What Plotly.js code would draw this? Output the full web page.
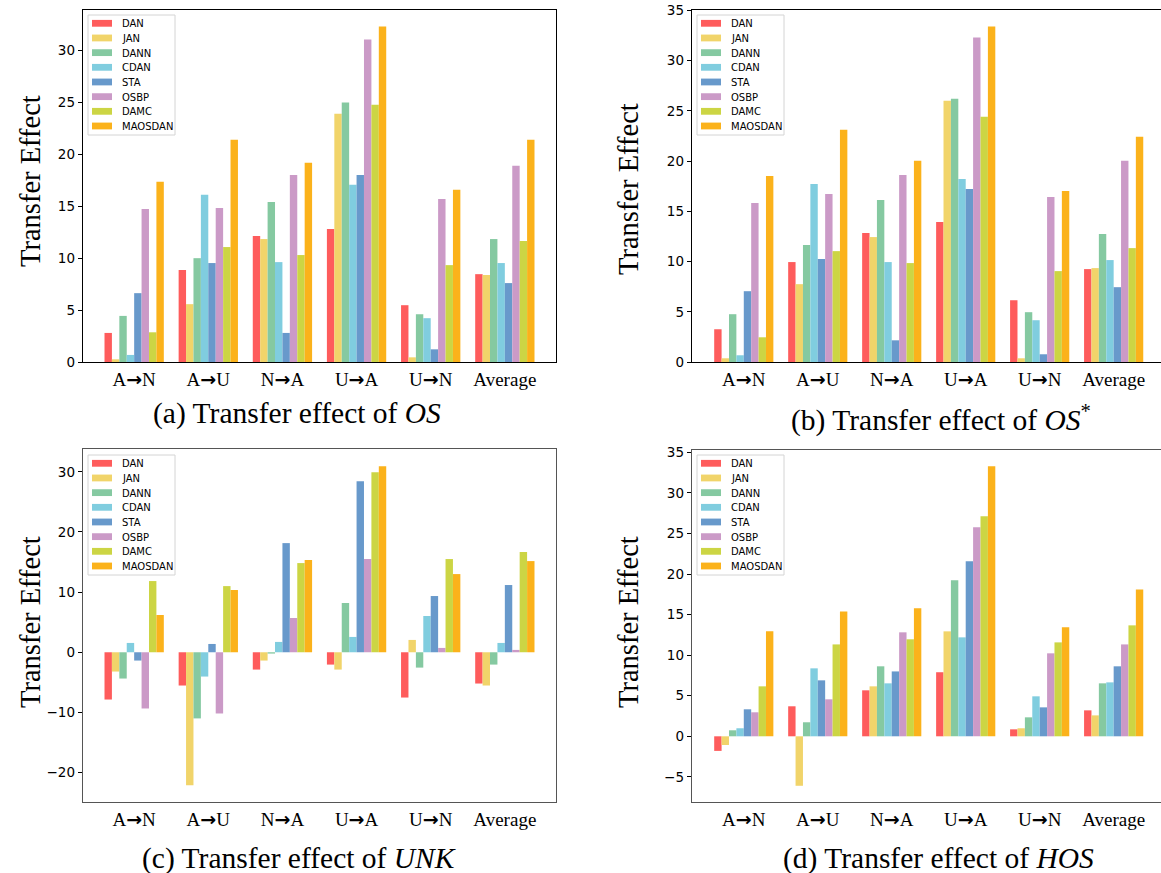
<!DOCTYPE html>
<html><head><meta charset="utf-8">
<script src="https://cdn.plot.ly/plotly-3.0.1.min.js"></script>
<style>body{margin:0;background:#fff}</style>
</head><body><div id="chart" style="width:1161px;height:873px"></div>
<script>
const ARROW = "<span style='font-family:DejaVu Sans;font-weight:bold'>→</span>";
const categories = ['A' + ARROW + 'N', 'A' + ARROW + 'U', 'N' + ARROW + 'A', 'U' + ARROW + 'A', 'U' + ARROW + 'N', 'Average'];
const methods = ['DAN', 'JAN', 'DANN', 'CDAN', 'STA', 'OSBP', 'DAMC', 'MAOSDAN'];
const colors = ['#fe5c5c', '#f1d46a', '#85c9a1', '#80cddf', '#6899cb', '#cb9ac7', '#ccd544', '#fbb21b'];

// rows: methods, columns: categories
const osValues = [
  [2.8, 8.85, 12.13, 12.81, 5.47, 8.46],
  [0.26, 5.57, 11.84, 23.9, 0.45, 8.37],
  [4.44, 10.0, 15.42, 24.98, 4.6, 11.84],
  [0.68, 16.1, 9.62, 17.06, 4.22, 9.53],
  [6.63, 9.53, 2.8, 18.02, 1.22, 7.6],
  [14.74, 14.84, 18.02, 31.06, 15.7, 18.89],
  [2.86, 11.07, 10.3, 24.78, 9.33, 11.65],
  [17.35, 21.4, 19.18, 32.31, 16.58, 21.4]
];
const osStarValues = [
  [3.26, 9.95, 12.84, 13.94, 6.15, 9.25],
  [0.37, 7.75, 12.44, 26.01, 0.37, 9.35],
  [4.76, 11.64, 16.13, 26.21, 4.96, 12.74],
  [0.67, 17.73, 9.95, 18.23, 4.16, 10.15],
  [7.05, 10.25, 2.16, 17.23, 0.77, 7.45],
  [15.84, 16.73, 18.63, 32.3, 16.43, 20.03],
  [2.46, 11.04, 9.85, 24.42, 9.05, 11.34],
  [18.53, 23.12, 20.03, 33.4, 17.03, 22.42]
];
const unkValues = [
  [-7.86, -5.53, -2.88, -2.05, -7.53, -5.2],
  [-3.21, -22.1, -1.38, -2.88, 2.05, -5.53],
  [-4.37, -11.0, -0.22, 8.19, -2.55, -2.05],
  [1.55, -4.04, 1.72, 2.55, 6.03, 1.55],
  [-1.38, 1.38, 18.15, 28.44, 9.35, 11.18],
  [-9.35, -10.18, 5.7, 15.5, 0.72, 0.39],
  [11.84, 11.0, 14.83, 29.94, 15.5, 16.66],
  [6.2, 10.35, 15.33, 30.94, 13.0, 15.16]
];
const hosValues = [
  [-1.8, 3.7, 5.67, 7.9, 0.86, 3.2],
  [-1.07, -6.1, 6.16, 12.94, 0.99, 2.58],
  [0.74, 1.73, 8.63, 19.24, 2.34, 6.53],
  [0.99, 8.38, 6.53, 12.2, 4.93, 6.65],
  [3.33, 6.9, 8.0, 21.58, 3.57, 8.63],
  [2.96, 4.56, 12.82, 25.77, 10.23, 11.33],
  [6.16, 11.33, 11.96, 27.13, 11.58, 13.68],
  [12.94, 15.4, 15.78, 33.3, 13.44, 18.1]
];
const yTicksA = [0, 5, 10, 15, 20, 25, 30];
const yTicksB = [0, 5, 10, 15, 20, 25, 30, 35];
const yTicksC = [-20, -10, 0, 10, 20, 30];
const yTicksD = [-5, 0, 5, 10, 15, 20, 25, 30, 35];

const W = 1161, H = 873;
const px = v => v / W, py = v => 1 - v / H;

const panels = [
  {vals: osValues, ax: '', box: [83, 556, 10, 362], yr: [0, 33.9], ticks: yTicksA, line: '#000', mirrorY: true, xr: [-0.69, 5.69], leg: [88, 15]},
  {vals: osStarValues, ax: '2', box: [692, 1161, 10, 362], yr: [0, 35.05], ticks: yTicksB, line: '#000', mirrorY: false, xr: [-0.70, 5.64], leg: [697, 15]},
  {vals: unkValues, ax: '3', box: [83, 556, 449, 802], yr: [-24.9, 33.8], ticks: yTicksC, line: '#555', mirrorY: true, xr: [-0.69, 5.69], leg: [88, 455]},
  {vals: hosValues, ax: '4', box: [692, 1161, 450, 802], yr: [-8.1, 35.3], ticks: yTicksD, line: '#555', mirrorY: false, xr: [-0.70, 5.64], leg: [697, 455]}
];

const data = [];
const layout = {
  width: W, height: H,
  margin: {l: 0, r: 0, t: 0, b: 0},
  paper_bgcolor: '#fff', plot_bgcolor: '#fff',
  barmode: 'group', bargap: 0.2, bargroupgap: 0,
  showlegend: false,
  annotations: [], shapes: []
};

panels.forEach((p, pi) => {
  methods.forEach((m, mi) => {
    data.push({
      type: 'bar', name: m, x: categories, y: p.vals[mi],
      marker: {color: colors[mi], line: {width: 0}},
      xaxis: 'x' + p.ax, yaxis: 'y' + p.ax,
      hoverinfo: 'x+y+name'
    });
  });
  const [l, r, t, b] = p.box;
  layout['xaxis' + p.ax] = {
    domain: [px(l), px(r)], anchor: 'y' + p.ax, type: 'category',
    range: p.xr, showgrid: false, zeroline: false,
    showline: true, linecolor: p.line, linewidth: 1.3, mirror: true,
    ticks: '', tickfont: {family: 'Liberation Serif', size: 19, color: '#000'},
    ticklabelstandoff: 0, fixedrange: true
  };
  layout['yaxis' + p.ax] = {
    domain: [py(b), py(t)], anchor: 'x' + p.ax,
    range: p.yr, tickvals: p.ticks, showgrid: false, zeroline: false,
    showline: true, linecolor: p.line, linewidth: 1.3, mirror: p.mirrorY,
    ticks: 'outside', ticklen: 4, tickcolor: '#000', tickwidth: 1,
    tickfont: {family: 'DejaVu Sans', size: 13.5, color: '#000'}, fixedrange: true
  };
  // legend (matplotlib style) drawn in paper space
  const [lx, ly] = p.leg;
  layout.shapes.push({type: 'rect', xref: 'paper', yref: 'paper', x0: px(lx), x1: px(lx + 87), y0: py(ly), y1: py(ly + 120),
    line: {color: '#d4d4d4', width: 1}, fillcolor: 'rgba(255,255,255,0.8)', layer: 'above'});
  methods.forEach((m, mi) => {
    const cy = ly + 8.3 + mi * 14.67;
    layout.shapes.push({type: 'rect', xref: 'paper', yref: 'paper', x0: px(lx + 4), x1: px(lx + 24), y0: py(cy - 3.4), y1: py(cy + 3.4),
      line: {width: 0}, fillcolor: colors[mi], layer: 'above'});
    layout.annotations.push({text: m, xref: 'paper', yref: 'paper', x: px(lx + 32), y: py(cy + 0.5), xanchor: 'left', yanchor: 'middle',
      showarrow: false, font: {family: 'DejaVu Sans', size: 10, color: '#000'}});
  });
});

const captions = [
  {text: '(a) Transfer effect of <i>OS</i>', x: 297, y: 413},
  {text: '(b) Transfer effect of <i>OS</i><sup>*</sup>', x: 941, y: 418},
  {text: '(c) Transfer effect of <i>UNK</i>', x: 299, y: 858},
  {text: '(d) Transfer effect of <i>HOS</i>', x: 938, y: 858}
];
captions.forEach(c => layout.annotations.push({
  text: c.text, xref: 'paper', yref: 'paper', x: px(c.x), y: py(c.y),
  xanchor: 'center', yanchor: 'middle', showarrow: false,
  font: {family: 'Liberation Serif', size: 29.5, color: '#000'}
}));
const ytitles = [{x: 30, y: 181}, {x: 628, y: 189}, {x: 30, y: 622}, {x: 628, y: 622}];
ytitles.forEach(t => layout.annotations.push({
  text: 'Transfer Effect', xref: 'paper', yref: 'paper', x: px(t.x), y: py(t.y),
  xanchor: 'center', yanchor: 'middle', showarrow: false, textangle: -90,
  font: {family: 'Liberation Serif', size: 28.5, color: '#000'}
}));

Plotly.newPlot('chart', data, layout, {displayModeBar: false, staticPlot: true});
</script></body></html>
